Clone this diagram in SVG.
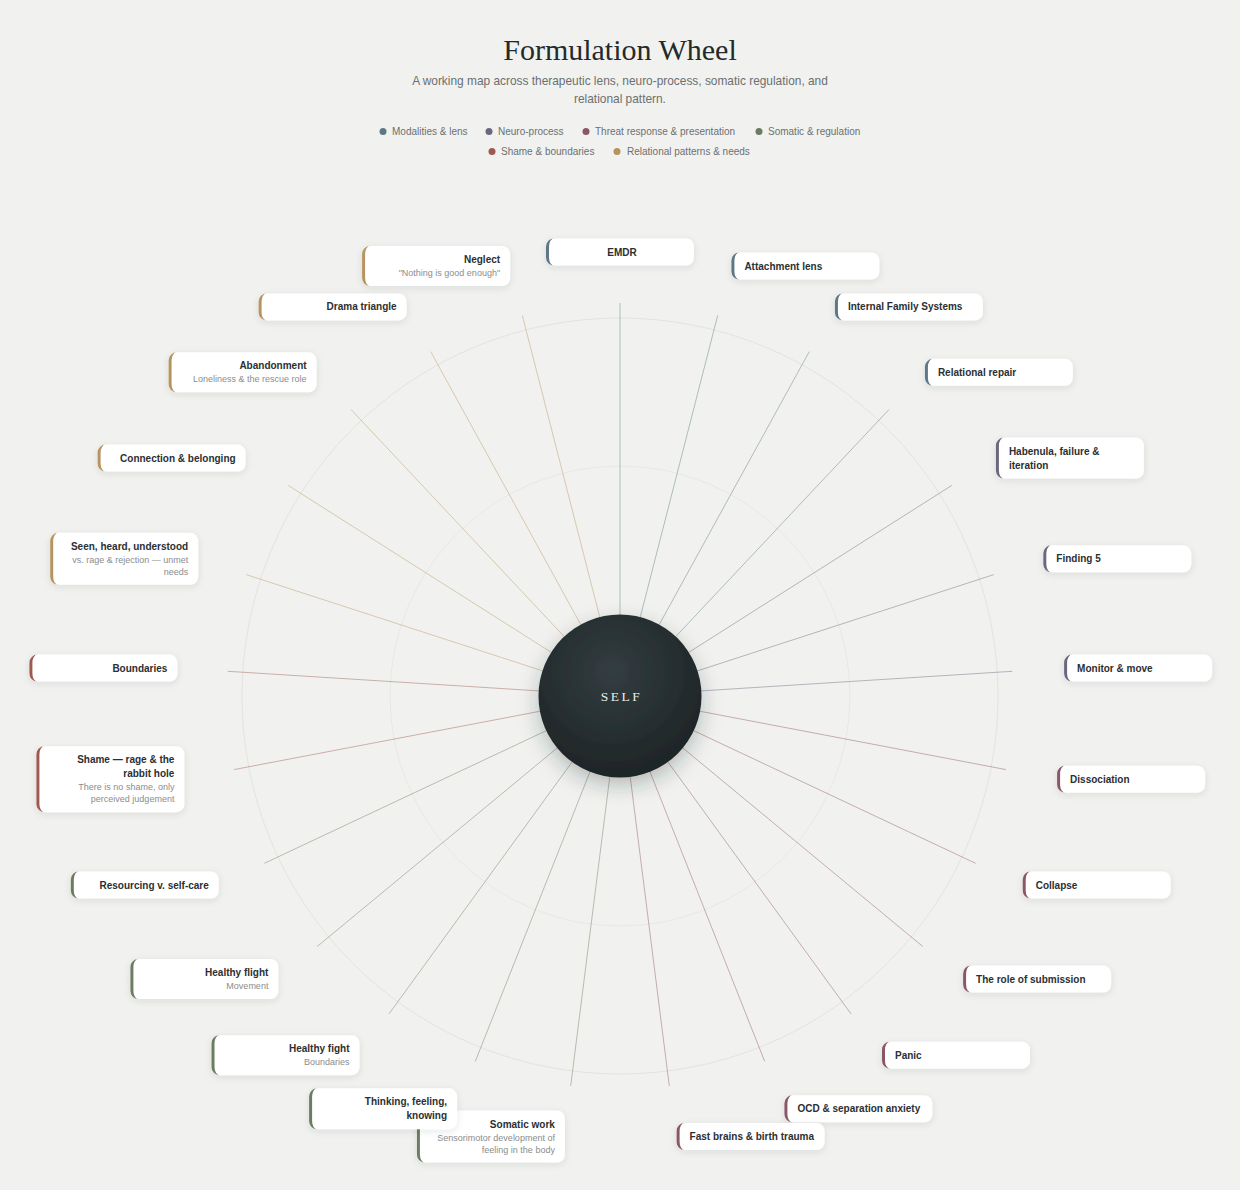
<svg xmlns="http://www.w3.org/2000/svg" width="1240" height="1190" viewBox="0 0 1240 1190">
<defs>
<filter id="sh" x="-20%" y="-40%" width="140%" height="200%">
<feDropShadow dx="0" dy="2" stdDeviation="3.5" flood-color="#1f2a2c" flood-opacity="0.1"/>
</filter>
<filter id="shc" x="-40%" y="-40%" width="180%" height="180%">
<feDropShadow dx="0" dy="8" stdDeviation="10" flood-color="#1f2a2c" flood-opacity="0.28"/>
</filter>
<radialGradient id="selfg" cx="45%" cy="35%" r="70%">
<stop offset="0" stop-color="#333d40"/>
<stop offset="1" stop-color="#1c2325"/>
</radialGradient>
</defs>
<style>
.bg{fill:#f1f2ef}
.ttl{font-family:"Liberation Serif","Times New Roman",serif;font-size:30px;fill:#232a2c}
.sub{font-family:"Liberation Sans",Arial,sans-serif;font-size:11.9px;fill:#6b6f70}
.lg{font-family:"Liberation Sans",Arial,sans-serif;font-size:10px;fill:#6c7072}
.ring{fill:none;stroke:#e2e4e0;stroke-width:1}
.sp{stroke-width:1;stroke-opacity:0.45;fill:none}
.card{fill:#ffffff;filter:url(#sh)}
.t{font-family:"Liberation Sans",Arial,sans-serif;font-size:10px;font-weight:bold;fill:#2a2f33}
.s{font-family:"Liberation Sans",Arial,sans-serif;font-size:9px;fill:#8a8d8e}
.r{text-anchor:end}
.c{text-anchor:middle}
.mod{fill:#5d7786;stroke:#5d7786}
.neu{fill:#6c6681;stroke:#6c6681}
.thr{fill:#8b5767;stroke:#8b5767}
.som{fill:#6b7c60;stroke:#6b7c60}
.sha{fill:#9e5a50;stroke:#9e5a50}
.rel{fill:#b5945f;stroke:#b5945f}
path.bd{stroke:none}
circle.dot{stroke:none}
.self{font-family:"Liberation Serif","Times New Roman",serif;font-size:13.5px;letter-spacing:2.5px;fill:#e9ecea}
</style>
<rect class="bg" x="0" y="0" width="1240" height="1190"/>

<g id="header">
<text class="ttl" x="620" y="59.5" text-anchor="middle">Formulation Wheel</text>
<text class="sub" x="620" y="85" text-anchor="middle">A working map across therapeutic lens, neuro-process, somatic regulation, and</text>
<text class="sub" x="620" y="103" text-anchor="middle">relational pattern.</text>
</g>

<g id="legend">
<circle class="dot mod" cx="383" cy="131.5" r="3.5"/><text class="lg" x="392" y="135">Modalities &amp; lens</text>
<circle class="dot neu" cx="489" cy="131.5" r="3.5"/><text class="lg" x="498" y="135">Neuro-process</text>
<circle class="dot thr" cx="586" cy="131.5" r="3.5"/><text class="lg" x="595" y="135">Threat response &amp; presentation</text>
<circle class="dot som" cx="759" cy="131.5" r="3.5"/><text class="lg" x="768" y="135">Somatic &amp; regulation</text>
<circle class="dot sha" cx="492" cy="151.5" r="3.5"/><text class="lg" x="501" y="155">Shame &amp; boundaries</text>
<circle class="dot rel" cx="617" cy="151.5" r="3.5"/><text class="lg" x="627" y="155">Relational patterns &amp; needs</text>
</g>

<g id="rings">
<circle class="ring" cx="620" cy="696" r="378"/>
<circle class="ring" cx="620" cy="696" r="230" style="stroke:#e7e9e5"/>
</g>

<g id="connectors">
<line class="sp mod" x1="620" y1="696" x2="620" y2="303"/>
<line class="sp mod" x1="620" y1="696" x2="717.7" y2="315.4"/>
<line class="sp mod" x1="620" y1="696" x2="809.3" y2="351.6"/>
<line class="sp mod" x1="620" y1="696" x2="889.0" y2="409.5"/>
<line class="sp neu" x1="620" y1="696" x2="951.8" y2="485.4"/>
<line class="sp neu" x1="620" y1="696" x2="993.8" y2="574.6"/>
<line class="sp neu" x1="620" y1="696" x2="1012.2" y2="671.3"/>
<line class="sp thr" x1="620" y1="696" x2="1006.0" y2="769.6"/>
<line class="sp thr" x1="620" y1="696" x2="975.6" y2="863.3"/>
<line class="sp thr" x1="620" y1="696" x2="922.8" y2="946.5"/>
<line class="sp thr" x1="620" y1="696" x2="851.0" y2="1013.9"/>
<line class="sp thr" x1="620" y1="696" x2="764.7" y2="1061.4"/>
<line class="sp thr" x1="620" y1="696" x2="669.3" y2="1085.9"/>
<line class="sp som" x1="620" y1="696" x2="570.7" y2="1085.9"/>
<line class="sp som" x1="620" y1="696" x2="475.3" y2="1061.4"/>
<line class="sp som" x1="620" y1="696" x2="389.0" y2="1013.9"/>
<line class="sp som" x1="620" y1="696" x2="317.2" y2="946.5"/>
<line class="sp som" x1="620" y1="696" x2="264.4" y2="863.3"/>
<line class="sp sha" x1="620" y1="696" x2="234.0" y2="769.6"/>
<line class="sp sha" x1="620" y1="696" x2="227.8" y2="671.3"/>
<line class="sp rel" x1="620" y1="696" x2="246.2" y2="574.6"/>
<line class="sp rel" x1="620" y1="696" x2="288.2" y2="485.4"/>
<line class="sp rel" x1="620" y1="696" x2="351.0" y2="409.5"/>
<line class="sp rel" x1="620" y1="696" x2="430.7" y2="351.6"/>
<line class="sp rel" x1="620" y1="696" x2="522.3" y2="315.4"/>
</g>

<g id="self">
<circle cx="620" cy="696" r="81.5" fill="url(#selfg)" filter="url(#shc)"/>
<text class="self" x="621.5" y="701" text-anchor="middle">SELF</text>
</g>

<g id="n-emdr" transform="translate(546,238.5)">
<rect class="card" width="148" height="27" rx="8"/><path class="bd mod" d="M8,0A8,8 0 0 0 0,8V19A8,8 0 0 0 8,27A5,8 0 0 1 3,19V8A5,8 0 0 1 8,0Z"/>
<text class="t c" x="76" y="17">EMDR</text>
</g>
<g id="n-attachment" transform="translate(731.4,252.5)">
<rect class="card" width="148" height="27" rx="8"/><path class="bd mod" d="M8,0A8,8 0 0 0 0,8V19A8,8 0 0 0 8,27A5,8 0 0 1 3,19V8A5,8 0 0 1 8,0Z"/>
<text class="t" x="13" y="17">Attachment lens</text>
</g>
<g id="n-ifs" transform="translate(834.9,293.4)">
<rect class="card" width="148" height="27" rx="8"/><path class="bd mod" d="M8,0A8,8 0 0 0 0,8V19A8,8 0 0 0 8,27A5,8 0 0 1 3,19V8A5,8 0 0 1 8,0Z"/>
<text class="t" x="13" y="17">Internal Family Systems</text>
</g>
<g id="n-repair" transform="translate(924.9,358.8)">
<rect class="card" width="148" height="27" rx="8"/><path class="bd mod" d="M8,0A8,8 0 0 0 0,8V19A8,8 0 0 0 8,27A5,8 0 0 1 3,19V8A5,8 0 0 1 8,0Z"/>
<text class="t" x="13" y="17">Relational repair</text>
</g>
<g id="n-habenula" transform="translate(995.9,437.6)">
<rect class="card" width="148" height="41" rx="8"/><path class="bd neu" d="M8,0A8,8 0 0 0 0,8V33A8,8 0 0 0 8,41A5,8 0 0 1 3,33V8A5,8 0 0 1 8,0Z"/>
<text class="t" x="13" y="17">Habenula, failure &amp;</text>
<text class="t" x="13" y="31">iteration</text>
</g>
<g id="n-finding5" transform="translate(1043.3,545.3)">
<rect class="card" width="148" height="27" rx="8"/><path class="bd neu" d="M8,0A8,8 0 0 0 0,8V19A8,8 0 0 0 8,27A5,8 0 0 1 3,19V8A5,8 0 0 1 8,0Z"/>
<text class="t" x="13" y="17">Finding 5</text>
</g>
<g id="n-monitor" transform="translate(1064.1,654.6)">
<rect class="card" width="148" height="27" rx="8"/><path class="bd neu" d="M8,0A8,8 0 0 0 0,8V19A8,8 0 0 0 8,27A5,8 0 0 1 3,19V8A5,8 0 0 1 8,0Z"/>
<text class="t" x="13" y="17">Monitor &amp; move</text>
</g>
<g id="n-dissociation" transform="translate(1057.1,765.7)">
<rect class="card" width="148" height="27" rx="8"/><path class="bd thr" d="M8,0A8,8 0 0 0 0,8V19A8,8 0 0 0 8,27A5,8 0 0 1 3,19V8A5,8 0 0 1 8,0Z"/>
<text class="t" x="13" y="17">Dissociation</text>
</g>
<g id="n-collapse" transform="translate(1022.7,871.5)">
<rect class="card" width="148" height="27" rx="8"/><path class="bd thr" d="M8,0A8,8 0 0 0 0,8V19A8,8 0 0 0 8,27A5,8 0 0 1 3,19V8A5,8 0 0 1 8,0Z"/>
<text class="t" x="13" y="17">Collapse</text>
</g>
<g id="n-submission" transform="translate(963.1,965.5)">
<rect class="card" width="148" height="27" rx="8"/><path class="bd thr" d="M8,0A8,8 0 0 0 0,8V19A8,8 0 0 0 8,27A5,8 0 0 1 3,19V8A5,8 0 0 1 8,0Z"/>
<text class="t" x="13" y="17">The role of submission</text>
</g>
<g id="n-panic" transform="translate(882,1041.7)">
<rect class="card" width="148" height="27" rx="8"/><path class="bd thr" d="M8,0A8,8 0 0 0 0,8V19A8,8 0 0 0 8,27A5,8 0 0 1 3,19V8A5,8 0 0 1 8,0Z"/>
<text class="t" x="13" y="17">Panic</text>
</g>
<g id="n-ocd" transform="translate(784.4,1095.3)">
<rect class="card" width="148" height="27" rx="8"/><path class="bd thr" d="M8,0A8,8 0 0 0 0,8V19A8,8 0 0 0 8,27A5,8 0 0 1 3,19V8A5,8 0 0 1 8,0Z"/>
<text class="t" x="13" y="17">OCD &amp; separation anxiety</text>
</g>
<g id="n-fastbrains" transform="translate(676.6,1123)">
<rect class="card" width="148" height="27" rx="8"/><path class="bd thr" d="M8,0A8,8 0 0 0 0,8V19A8,8 0 0 0 8,27A5,8 0 0 1 3,19V8A5,8 0 0 1 8,0Z"/>
<text class="t" x="13" y="17">Fast brains &amp; birth trauma</text>
</g>
<g id="n-somatic" transform="translate(416.9,1110.5)">
<rect class="card" width="148" height="52" rx="8"/><path class="bd som" d="M8,0A8,8 0 0 0 0,8V44A8,8 0 0 0 8,52A5,8 0 0 1 3,44V8A5,8 0 0 1 8,0Z"/>
<text class="t r" x="138" y="17">Somatic work</text>
<text class="s r" x="138" y="30">Sensorimotor development of</text>
<text class="s r" x="138" y="42">feeling in the body</text>
</g>
<g id="n-thinking" transform="translate(309.1,1088.3)">
<rect class="card" width="148" height="41" rx="8"/><path class="bd som" d="M8,0A8,8 0 0 0 0,8V33A8,8 0 0 0 8,41A5,8 0 0 1 3,33V8A5,8 0 0 1 8,0Z"/>
<text class="t r" x="138" y="17">Thinking, feeling,</text>
<text class="t r" x="138" y="31">knowing</text>
</g>
<g id="n-fight" transform="translate(211.5,1035.2)">
<rect class="card" width="148" height="40" rx="8"/><path class="bd som" d="M8,0A8,8 0 0 0 0,8V32A8,8 0 0 0 8,40A5,8 0 0 1 3,32V8A5,8 0 0 1 8,0Z"/>
<text class="t r" x="138" y="17">Healthy fight</text>
<text class="s r" x="138" y="30">Boundaries</text>
</g>
<g id="n-flight" transform="translate(130.4,959)">
<rect class="card" width="148" height="40" rx="8"/><path class="bd som" d="M8,0A8,8 0 0 0 0,8V32A8,8 0 0 0 8,40A5,8 0 0 1 3,32V8A5,8 0 0 1 8,0Z"/>
<text class="t r" x="138" y="17">Healthy flight</text>
<text class="s r" x="138" y="30">Movement</text>
</g>
<g id="n-resourcing" transform="translate(70.8,871.5)">
<rect class="card" width="148" height="27" rx="8"/><path class="bd som" d="M8,0A8,8 0 0 0 0,8V19A8,8 0 0 0 8,27A5,8 0 0 1 3,19V8A5,8 0 0 1 8,0Z"/>
<text class="t r" x="138" y="17">Resourcing v. self-care</text>
</g>
<g id="n-shame" transform="translate(36.4,746.2)">
<rect class="card" width="148" height="66" rx="8"/><path class="bd sha" d="M8,0A8,8 0 0 0 0,8V58A8,8 0 0 0 8,66A5,8 0 0 1 3,58V8A5,8 0 0 1 8,0Z"/>
<text class="t r" x="138" y="17">Shame — rage &amp; the</text>
<text class="t r" x="138" y="31">rabbit hole</text>
<text class="s r" x="138" y="44">There is no shame, only</text>
<text class="s r" x="138" y="56">perceived judgement</text>
</g>
<g id="n-boundaries" transform="translate(29.4,654.6)">
<rect class="card" width="148" height="27" rx="8"/><path class="bd sha" d="M8,0A8,8 0 0 0 0,8V19A8,8 0 0 0 8,27A5,8 0 0 1 3,19V8A5,8 0 0 1 8,0Z"/>
<text class="t r" x="138" y="17">Boundaries</text>
</g>
<g id="n-seen" transform="translate(50.2,532.8)">
<rect class="card" width="148" height="52" rx="8"/><path class="bd rel" d="M8,0A8,8 0 0 0 0,8V44A8,8 0 0 0 8,52A5,8 0 0 1 3,44V8A5,8 0 0 1 8,0Z"/>
<text class="t r" x="138" y="17">Seen, heard, understood</text>
<text class="s r" x="138" y="30">vs. rage &amp; rejection — unmet</text>
<text class="s r" x="138" y="42">needs</text>
</g>
<g id="n-connection" transform="translate(97.6,444.6)">
<rect class="card" width="148" height="27" rx="8"/><path class="bd rel" d="M8,0A8,8 0 0 0 0,8V19A8,8 0 0 0 8,27A5,8 0 0 1 3,19V8A5,8 0 0 1 8,0Z"/>
<text class="t r" x="138" y="17">Connection &amp; belonging</text>
</g>
<g id="n-abandonment" transform="translate(168.6,352.3)">
<rect class="card" width="148" height="40" rx="8"/><path class="bd rel" d="M8,0A8,8 0 0 0 0,8V32A8,8 0 0 0 8,40A5,8 0 0 1 3,32V8A5,8 0 0 1 8,0Z"/>
<text class="t r" x="138" y="17">Abandonment</text>
<text class="s r" x="138" y="30">Loneliness &amp; the rescue role</text>
</g>
<g id="n-drama" transform="translate(258.6,293.4)">
<rect class="card" width="148" height="27" rx="8"/><path class="bd rel" d="M8,0A8,8 0 0 0 0,8V19A8,8 0 0 0 8,27A5,8 0 0 1 3,19V8A5,8 0 0 1 8,0Z"/>
<text class="t r" x="138" y="17">Drama triangle</text>
</g>
<g id="n-neglect" transform="translate(362.1,246)">
<rect class="card" width="148" height="40" rx="8"/><path class="bd rel" d="M8,0A8,8 0 0 0 0,8V32A8,8 0 0 0 8,40A5,8 0 0 1 3,32V8A5,8 0 0 1 8,0Z"/>
<text class="t r" x="138" y="17">Neglect</text>
<text class="s r" x="138" y="30">"Nothing is good enough"</text>
</g>
</svg>
